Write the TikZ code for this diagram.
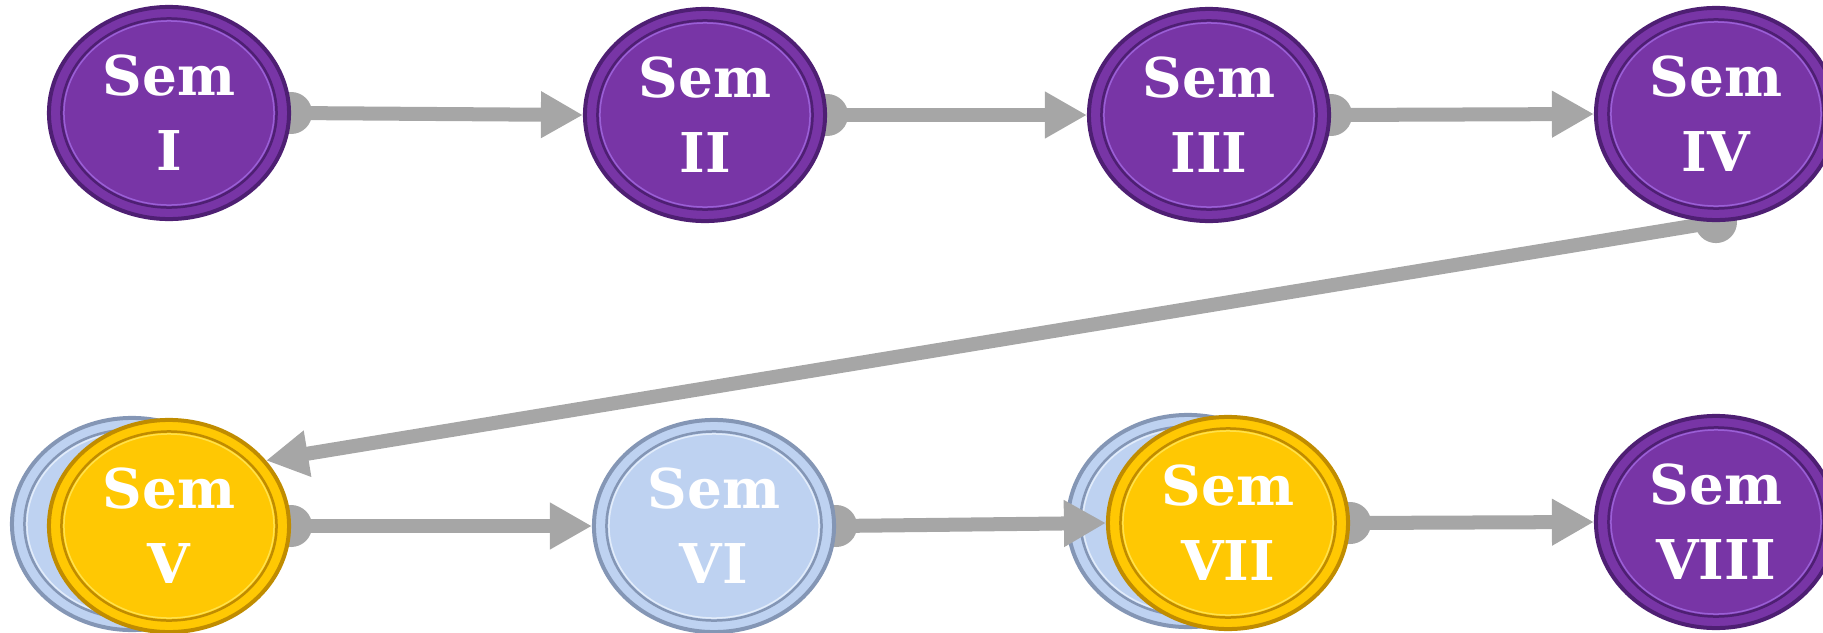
\documentclass[tikz,border=0pt]{standalone}
\usepackage{fontspec}
\setmainfont{DejaVu Serif}
\usepackage{tikz}
\usetikzlibrary{
    calc,
    positioning,
    arrows.meta,
    backgrounds,
    shapes.geometric
}
\definecolor{semPurple}{HTML}{7835A6}
\definecolor{semPurpleRim}{HTML}{4E1F73}
\definecolor{semPurpleHi}{HTML}{9A5FD6}
\definecolor{semGold}{HTML}{FFC803}
\definecolor{semGoldRim}{HTML}{C08C00}
\definecolor{semGoldHi}{HTML}{FFE14A}
\definecolor{semBlue}{HTML}{BED2F1}
\definecolor{semBlueRim}{HTML}{8496B5}
\definecolor{semBlueHi}{HTML}{E2ECFA}
\definecolor{linkgray}{HTML}{A6A6A6}
\tikzset{
    coin/.style n args={3}{
        shape=ellipse, inner sep=0pt,
        minimum width=2.4cm, minimum height=2.12cm,
        fill=#1, draw=#2, line width=0.04cm,
        text=white, align=center,
        font=\fontsize{15.6}{21.3}\selectfont\bfseries,
        path picture={
            \draw[#2, line width=0.025cm]
                (path picture bounding box.center) ellipse [x radius=1.075cm, y radius=0.945cm];
            \draw[#3, line width=0.015cm]
                (path picture bounding box.center) ellipse [x radius=1.05cm, y radius=0.92cm];
        }
    },
    coin purple/.style={coin={semPurple}{semPurpleRim}{semPurpleHi}},
    coin gold/.style={coin={semGold}{semGoldRim}{semGoldHi}},
    coin blue/.style={coin={semBlue}{semBlueRim}{semBlueHi}},
    link/.style={
        draw=linkgray, line width=0.14cm,
        -{Triangle[length=0.42cm, width=0.44cm]}
    },
    link dot/.style={fill=linkgray},
}

\begin{document}
\begin{tikzpicture}[x=0.01cm, y=-0.01cm]
    \useasboundingbox (0,0) rectangle (1823,633);
    % front coins
    \node[coin purple] (sem_1) at (169,113) {Sem\\I};
    \node[coin purple] (sem_2) at (705,115) {Sem\\II};
    \node[coin purple] (sem_3) at (1209,115) {Sem\\III};
    \node[coin purple] (sem_4) at (1716,114) {Sem\\IV};
    \node[coin gold] (sem_5) at (169,526) {Sem\\V};
    \node[coin blue] (sem_6) at (714,526) {Sem\\VI};
    \node[coin gold] (sem_7) at (1228,523) {Sem\\VII};
    \node[coin purple] (sem_8) at (1716,522) {Sem\\VIII};
    \begin{scope}[on background layer]
        % blue coins lying behind the gold ones
        \node[coin blue] (back_5) at ($(sem_5)+(-37,-2)$) {};
        \node[coin blue] (back_7) at ($(sem_7)+(-40,-2)$) {};
        \foreach \a/\b in {1/2, 2/3, 3/4, 5/6, 6/7, 7/8} {
            \fill[link dot] (sem_\a.east) circle[radius=0.21cm];
            \draw[link] (sem_\a.east) -- (sem_\b.west);
        }
        \fill[link dot] (sem_4.south) circle[radius=0.21cm];
        \draw[link] (sem_4.south) -- (sem_5.34);
    \end{scope}
\end{tikzpicture}
\end{document}
